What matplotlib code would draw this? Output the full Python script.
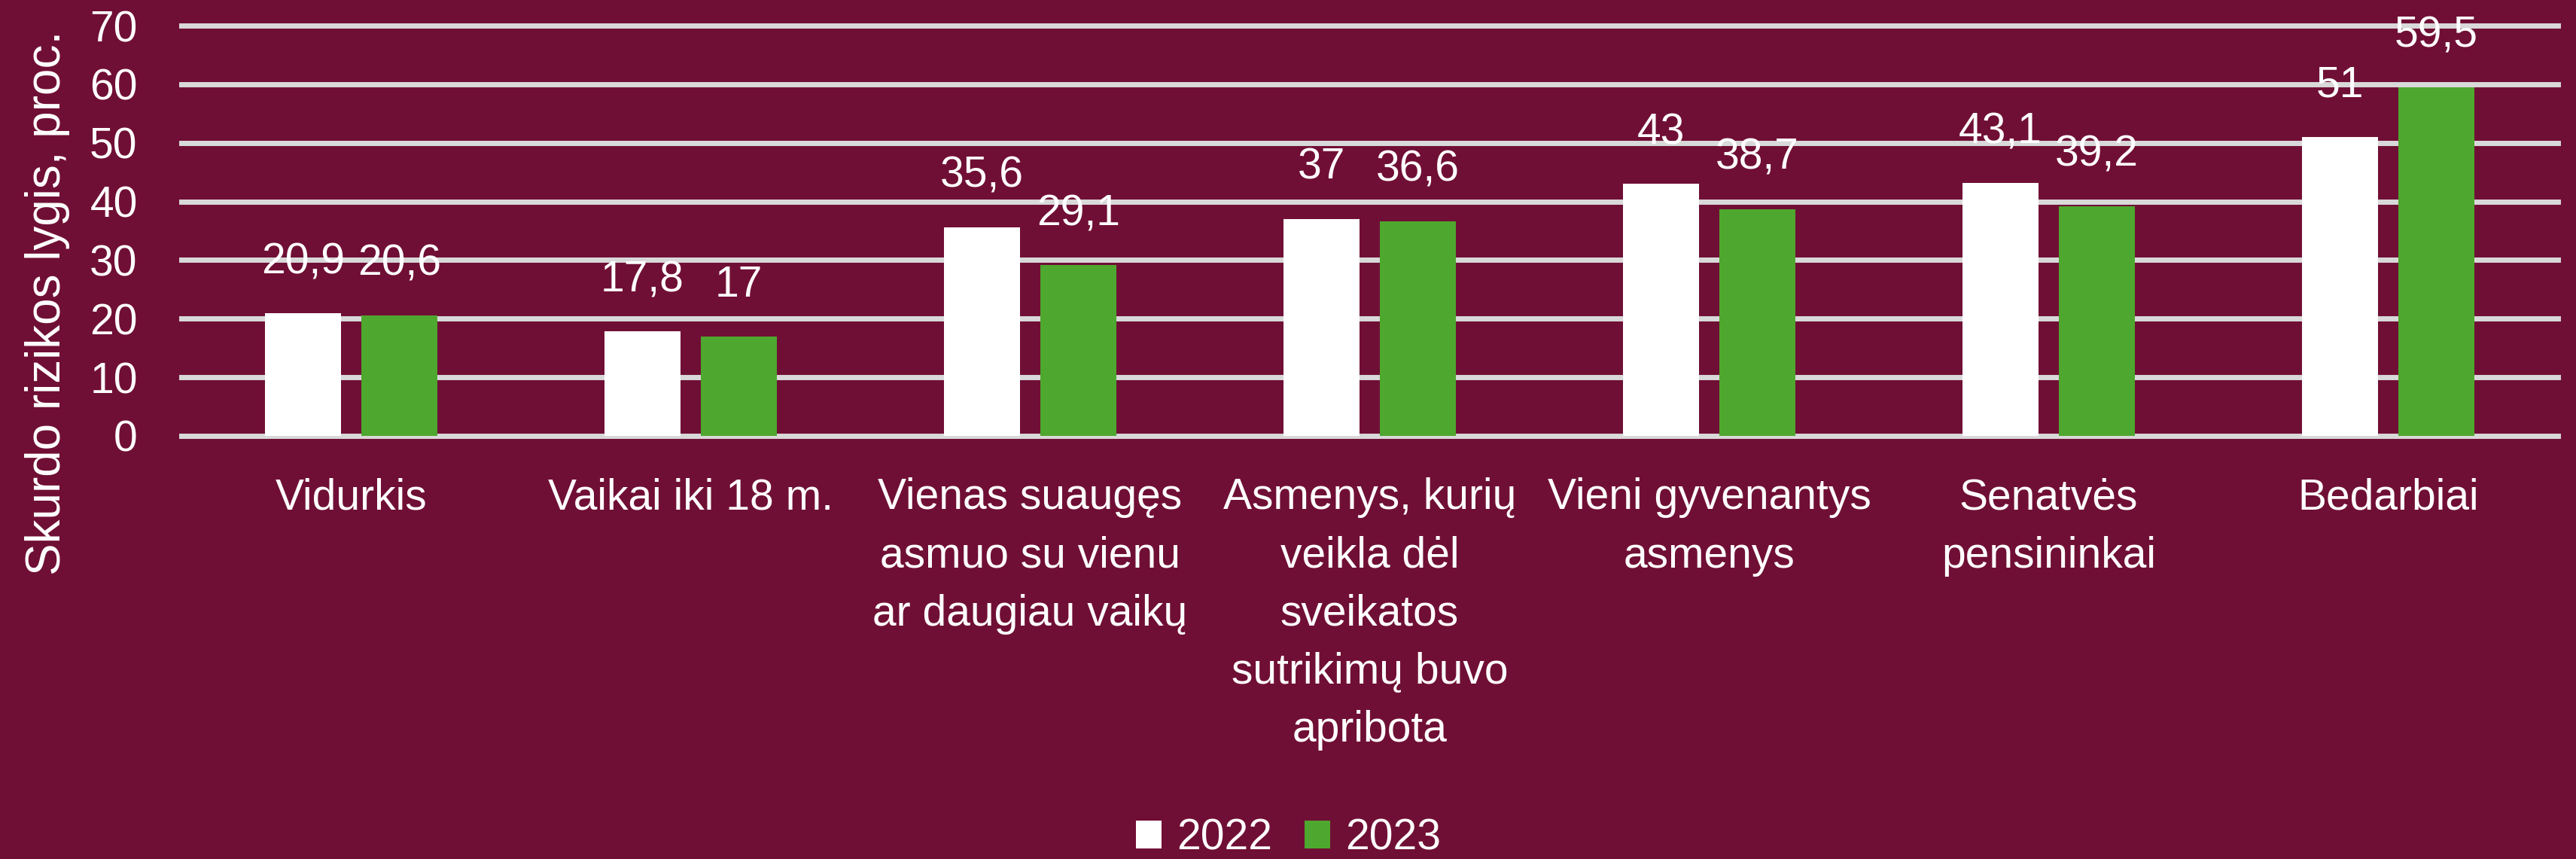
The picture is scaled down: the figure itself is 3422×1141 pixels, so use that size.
import numpy as np
import matplotlib
matplotlib.use("Agg")
import matplotlib.pyplot as plt
from matplotlib.patches import Patch

plt.rcParams['font.family'] = ['Liberation Sans', 'DejaVu Sans']

categories = [
    "Vidurkis",
    "Vaikai iki 18 m.",
    "Vienas suaugęs\nasmuo su vienu\nar daugiau vaikų",
    "Asmenys, kurių\nveikla dėl\nsveikatos\nsutrikimų buvo\napribota",
    "Vieni gyvenantys\nasmenys",
    "Senatvės\npensininkai",
    "Bedarbiai",
]
years = ["2022", "2023"]
values_2022 = [20.9, 17.8, 35.6, 37, 43, 43.1, 51]
values_2023 = [20.6, 17, 29.1, 36.6, 38.7, 39.2, 59.5]
yticks = [0, 10, 20, 30, 40, 50, 60, 70]

BG = '#700F35'
GREEN = '#4EA72E'
GRID = '#D9D9D9'
FS = 41

fig = plt.figure(figsize=(34.23, 11.41), dpi=100, facecolor=BG)
ax = fig.add_axes([0.0704, 0.4926, 0.9223, 0.4776])
ax.set_facecolor(BG)

x = np.arange(len(categories))
w = 0.222
off = 0.142
b1 = ax.bar(x - off, values_2022, w, color='white', zorder=3)
b2 = ax.bar(x + off, values_2023, w, color=GREEN, zorder=3)

def fmt(v):
    return f"{v:g}".replace('.', ',')

for bars, vals in [(b1, values_2022), (b2, values_2023)]:
    for bar, v in zip(bars, vals):
        ax.annotate(fmt(v), (bar.get_x() + bar.get_width() / 2, v),
                    xytext=(0, 49), textcoords='offset points',
                    ha='center', va='center', color='white', fontsize=FS,
                    zorder=4)

ax.set_xlim(-0.5, len(categories) - 0.5)
ax.set_ylim(0, 70)
ax.set_yticks(yticks)
ax.set_yticklabels([str(t) for t in yticks])
ax.set_xticks(x)
ax.set_xticklabels(categories, linespacing=1.55)
ax.tick_params(axis='both', length=0, colors='white', labelsize=FS)
ax.tick_params(axis='y', pad=42)
ax.tick_params(axis='x', pad=40)
for lbl in ax.get_xticklabels():
    lbl.set_va('top')
    lbl.set_ha('center')

ax.grid(axis='y', color=GRID, linewidth=5, zorder=0)
for line in ax.get_ygridlines():
    line.set_clip_on(False)
for s in ax.spines.values():
    s.set_visible(False)

ax.set_ylabel("Skurdo rizikos lygis, proc.", color='white', fontsize=46)
ax.yaxis.set_label_coords(-0.047, 0.325)

handles = [Patch(facecolor='white', label=years[0]),
           Patch(facecolor=GREEN, label=years[1])]
fig.legend(handles=handles, loc='center', bbox_to_anchor=(0.5, 0.024),
           ncol=2, frameon=False, fontsize=FS, labelcolor='white',
           handlelength=0.6, handleheight=0.6, handletextpad=0.35,
           columnspacing=0.75, borderpad=0)

fig.savefig("out.png", dpi=100, facecolor=BG)
